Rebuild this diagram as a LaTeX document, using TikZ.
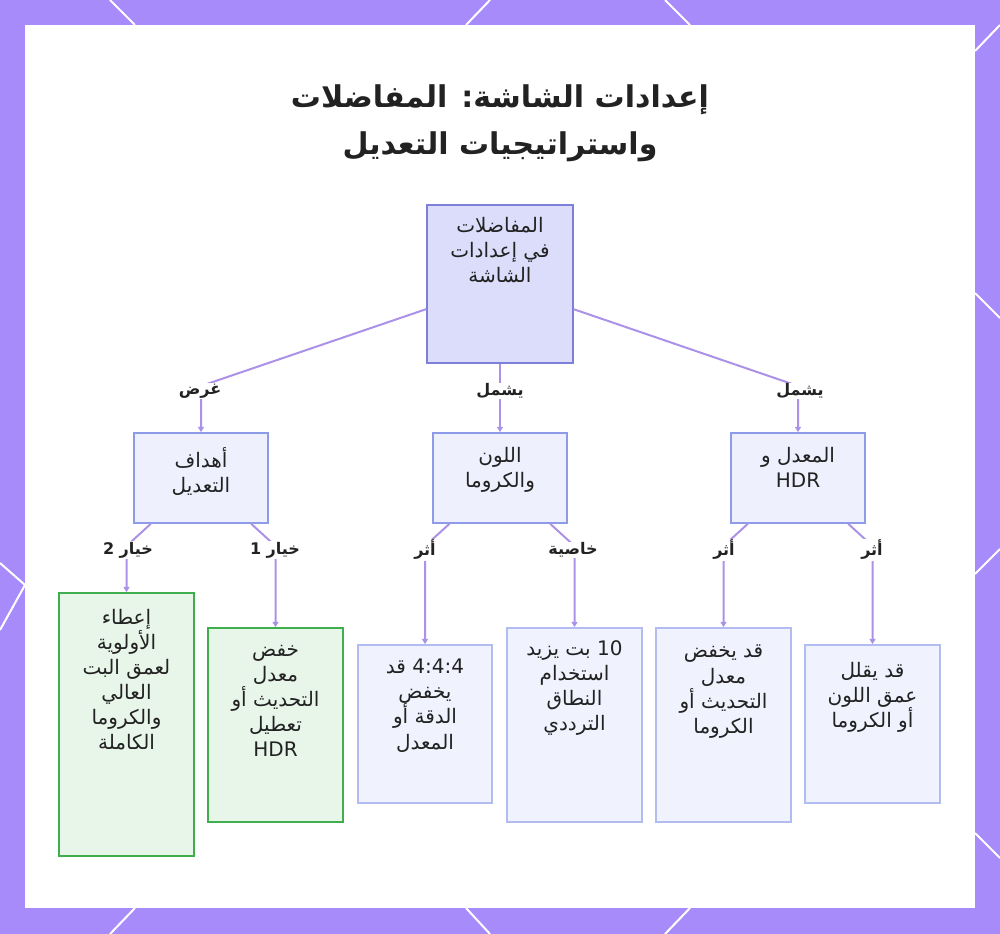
\documentclass[tikz,border=0pt]{standalone}
\usepackage{fontspec}
\setmainfont{DejaVu Sans}
\newfontfamily\arabicfont[Script=Arabic]{DejaVu Sans}
\TeXXeTstate=1
\usetikzlibrary{positioning}
\usetikzlibrary{fit}
\usetikzlibrary{arrows.meta}

\definecolor{bgpurple}{HTML}{A78BFA}
\definecolor{linkcol}{HTML}{AB92E8}
\definecolor{rootfill}{HTML}{DCDDFB}
\definecolor{rootline}{HTML}{7C80D8}
\definecolor{midfill}{HTML}{EEF0FD}
\definecolor{midline}{HTML}{8E9BE8}
\definecolor{leaffill}{HTML}{F0F2FE}
\definecolor{leafline}{HTML}{B3BCF0}
\definecolor{greenfill}{HTML}{E8F5E9}
\definecolor{greenline}{HTML}{3FAE4C}
\definecolor{ink}{HTML}{222222}

\newcommand{\ar}[1]{\beginR #1\endR}		% строка справа налево

\begin{document}
\begin{tikzpicture}
	[	x=0.75pt, y=-0.75pt,					% 1 единица = 1 пиксель, ось y вниз
		font=\arabicfont\fontsize{15}{18.8}\selectfont,
		rootbox/.style={draw=rootline, fill=rootfill, line width=1.2, inner sep=0},
		midbox/.style={draw=midline, fill=midfill, line width=1.2, inner sep=0},
		leafbox/.style={draw=leafline, fill=leaffill, line width=1.2, inner sep=0},
		greenbox/.style={draw=greenline, fill=greenfill, line width=1.2, inner sep=0},
		txt/.style={anchor=north, align=center, text=ink, inner sep=0},
		elabel/.style={font=\arabicfont\bfseries\fontsize{12}{14}\selectfont, text=ink, fill=white, inner sep=0.5},
		link/.style={draw=linkcol, line width=1.5, -{Triangle[length=4pt,width=4.5pt]}}	]
	\useasboundingbox (0,0) rectangle (1000,934);
	\fill[bgpurple] (0,0) rectangle (1000,934);							% фон
	\foreach \a/\b/\c/\d in {110/0/135/25, 490/0/466/25, 665/0/690/25,
		135/908/110/934, 466/908/490/934, 690/908/665/934,
		0/563/25/585, 25/585/0/630,
		1000/25/975/51, 975/293/1000/318, 975/574/1000/549, 975/833/1000/858}
		\draw[white, line width=1.5] (\a,\b) -- (\c,\d);					% линии рамки
	\fill[white] (25,25) rectangle (975,908);							% панель
	\node[font=\arabicfont\bfseries\fontsize{22.5}{35}\selectfont, align=center, text=ink] (title) at (500,123)
		{\ar{إعدادات الشاشة: المفاضلات}\\\ar{واستراتيجيات التعديل}};	% заголовок
	% блоки
	\node[rootbox, fit={(427,205) (573,363)}] (root) {};
	\node[midbox, fit={(134,433) (268,523)}] (goal) {};
	\node[midbox, fit={(433,433) (567,523)}] (color) {};
	\node[midbox, fit={(731,433) (865,523)}] (rate) {};
	\node[greenbox, fit={(59,593) (194,856)}] (prio) {};
	\node[greenbox, fit={(208,628) (343,822)}] (cut) {};
	\node[leafbox, fit={(358,645) (492,803)}] (chroma) {};
	\node[leafbox, fit={(507,628) (642,822)}] (band) {};
	\node[leafbox, fit={(656,628) (791,822)}] (lower) {};
	\node[leafbox, fit={(805,645) (940,803)}] (depth) {};
	% тексты блоков
	\node[txt] (root-t) at (500,217) {\ar{المفاضلات}\\\ar{في إعدادات}\\\ar{الشاشة}};
	\node[txt] (goal-t) at (201,447) {\ar{أهداف}\\\ar{التعديل}};
	\node[txt] (color-t) at (500,447) {\ar{اللون}\\\ar{والكروما}};
	\node[txt] (rate-t) at (798,447) {\ar{المعدل و}\\HDR};
	\node[txt] (prio-t) at (126.5,609) {\ar{إعطاء}\\\ar{الأولوية}\\\ar{لعمق البت}\\\ar{العالي}\\\ar{والكروما}\\\ar{الكاملة}};
	\node[txt] (cut-t) at (275.5,645) {\ar{خفض}\\\ar{معدل}\\\ar{التحديث أو}\\\ar{تعطيل}\\HDR};
	\node[txt] (chroma-t) at (425,659) {\ar{\beginL 4:4:4\endL{} قد}\\\ar{يخفض}\\\ar{الدقة أو}\\\ar{المعدل}};
	\node[txt] (band-t) at (574.5,640) {\ar{\beginL 10\endL{} بت يزيد}\\\ar{استخدام}\\\ar{النطاق}\\\ar{الترددي}};
	\node[txt] (lower-t) at (723.5,645) {\ar{قد يخفض}\\\ar{معدل}\\\ar{التحديث أو}\\\ar{الكروما}};
	\node[txt] (depth-t) at (872.5,662) {\ar{قد يقلل}\\\ar{عمق اللون}\\\ar{أو الكروما}};
	% изломы связей
	\coordinate (k-goal) at (201,386);
	\coordinate (k-rate) at (798,386);
	\coordinate (k-prio) at (126.5,546);
	\coordinate (k-cut) at (275.5,546);
	\coordinate (k-chroma) at (425,546);
	\coordinate (k-band) at (574.5,546);
	\coordinate (k-lower) at (723.5,546);
	\coordinate (k-depth) at (872.5,546);
	% связи
	\draw[link] (root) -- (k-goal) -- (goal);
	\draw[link] (root) -- (color);
	\draw[link] (root) -- (k-rate) -- (rate);
	\draw[link] (goal) -- (k-prio) -- (prio);
	\draw[link] (goal) -- (k-cut) -- (cut);
	\draw[link] (color) -- (k-chroma) -- (chroma);
	\draw[link] (color) -- (k-band) -- (band);
	\draw[link] (rate) -- (k-lower) -- (lower);
	\draw[link] (rate) -- (k-depth) -- (depth);
	% подписи связей
	\node[elabel] (l-goal) at (200,391) {\ar{غرض}};
	\node[elabel] (l-color) at (500,391) {\ar{يشمل}};
	\node[elabel] (l-rate) at (800,391) {\ar{يشمل}};
	\node[elabel] (l-prio) at (128,550) {\ar{خيار \beginL 2\endL}};
	\node[elabel] (l-cut) at (275,550) {\ar{خيار \beginL 1\endL}};
	\node[elabel] (l-chroma) at (425,550) {\ar{أثر}};
	\node[elabel] (l-band) at (573,550) {\ar{خاصية}};
	\node[elabel] (l-lower) at (724,550) {\ar{أثر}};
	\node[elabel] (l-depth) at (872,550) {\ar{أثر}};
\end{tikzpicture}
\end{document}
